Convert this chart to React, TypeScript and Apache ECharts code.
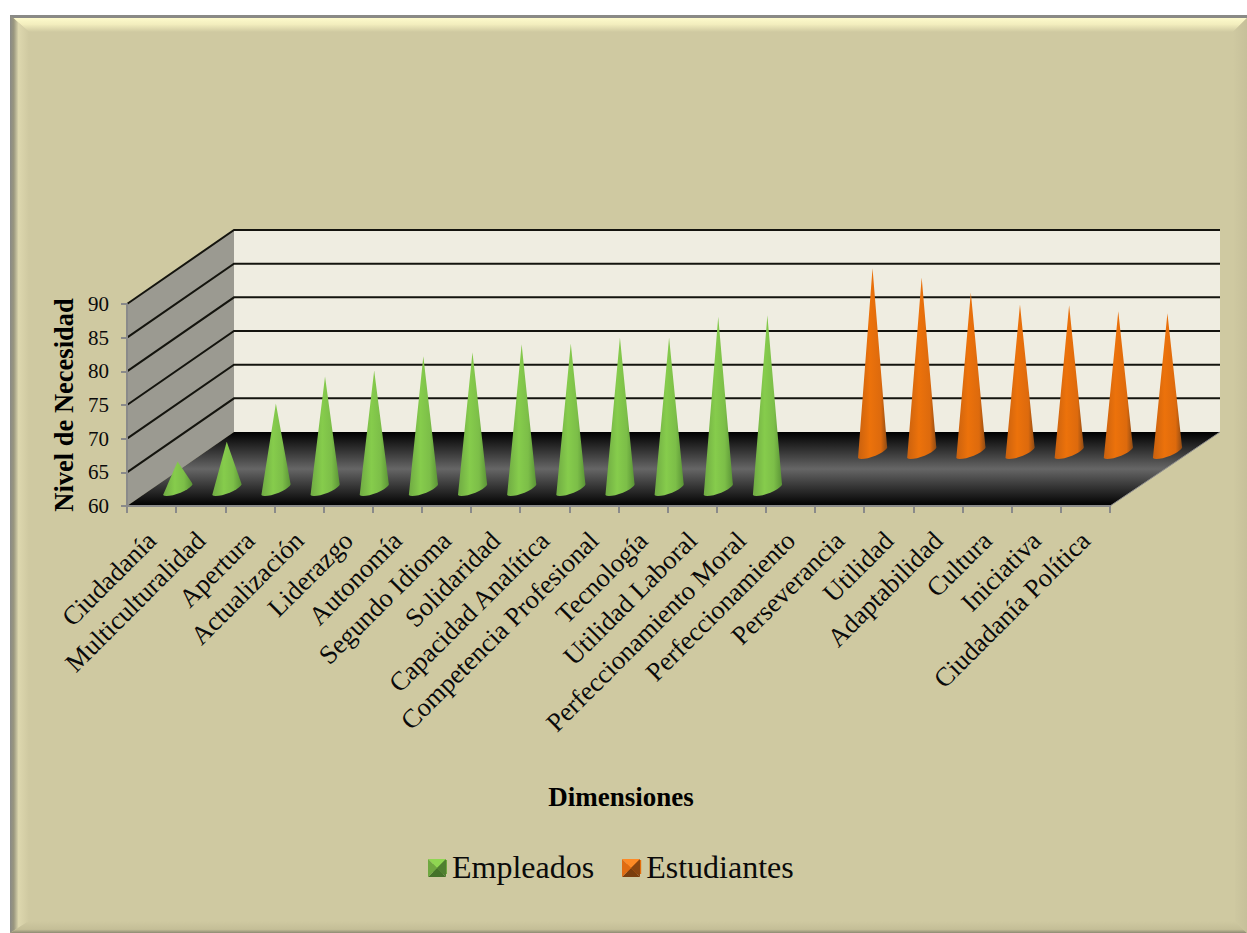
import React, { useEffect, useRef } from "react";
import * as echarts from "echarts";

const categories = [
  "Ciudadanía", "Multiculturalidad", "Apertura", "Actualización", "Liderazgo", "Autonomía",
  "Segundo Idioma", "Solidaridad", "Capacidad Analítica", "Competencia Profesional", "Tecnología",
  "Utilidad Laboral", "Perfeccionamiento Moral", "Perfeccionamiento", "Perseverancia", "Utilidad",
  "Adaptabilidad", "Cultura", "Iniciativa", "Ciudadanía Política",
];
const empleados = [64.1, 67, 72.7, 76.7, 77.6, 79.7, 80.3, 81.5, 81.6, 82.5, 82.5, 85.6, 85.8];
const estudiantes = [87.3, 85.9, 83.7, 81.9, 81.8, 80.9, 80.6];
const estudiantesStart = 13;
const yTicks = [65, 70, 75, 80, 85, 90];

const SERIF = "Liberation Serif";
const DEPTH_L = 107;
const DEPTH_R = 110;
const DEPTH_Y = 74;

const lg = (x1: number, y1: number, x2: number, y2: number, stops: [number, string][]) =>
  new echarts.graphic.LinearGradient(x1, y1, x2, y2, stops.map(([offset, color]) => ({ offset, color })));

const coneRender = (dx: number, dy: number, stops: [number, string][]) => (params: any, api: any) => {
  const idx = api.value(0);
  const top = api.coord([idx, api.value(1)]);
  const base = api.coord([idx, 60]);
  const band = api.size([1, 0])[0];
  const cx = base[0] + dx;
  const cy = base[1] + dy;
  const ax = -band * 0.295;
  const ay = band * 0.122;
  const bx = band * 0.06;
  const by = band * 0.075;
  const points: number[][] = [[top[0] + dx, top[1] + dy]];
  const steps = [0, 1, 2, 3, 4, 5, 6, 7, 8, 9, 10, 11, 12];
  steps.forEach((s) => {
    const t = (s / 12) * Math.PI;
    points.push([cx + ax * Math.cos(t) + bx * Math.sin(t), cy + ay * Math.cos(t) + by * Math.sin(t)]);
  });
  return { type: "polygon", shape: { points }, style: { fill: lg(0, 0, 1, 0, stops) }, silent: true };
};

const wallsRender = (params: any, api: any) => {
  const cs = params.coordSys;
  const l = cs.x, r = cs.x + cs.width, t = cs.y, b = cs.y + cs.height;
  return {
    type: "group",
    silent: true,
    children: [
      {
        type: "polygon",
        shape: { points: [[l + DEPTH_L, t - DEPTH_Y], [r + DEPTH_R, t - DEPTH_Y], [r + DEPTH_R, b - DEPTH_Y], [l + DEPTH_L, b - DEPTH_Y]] },
        style: { fill: "#EFEDE1" },
      },
      {
        type: "polygon",
        shape: { points: [[l, t], [l + DEPTH_L, t - DEPTH_Y], [l + DEPTH_L, b - DEPTH_Y], [l, b]] },
        style: { fill: "#9B9A91" },
      },
      {
        type: "polygon",
        shape: { points: [[l, b], [l + DEPTH_L, b - DEPTH_Y], [r + DEPTH_R, b - DEPTH_Y], [r, b]] },
        style: { fill: lg(0, 0, 0, 1, [[0, "#000000"], [0.5, "#666666"], [1, "#000000"]]) },
      },
      { type: "line", shape: { x1: r, y1: b, x2: r + DEPTH_R, y2: b - DEPTH_Y }, style: { stroke: "#8E8E8E", lineWidth: 1 } },
    ],
  };
};

const gridRender = (params: any, api: any) => {
  const cs = params.coordSys;
  const y = api.coord([0, api.value(1)])[1];
  const l = cs.x, r = cs.x + cs.width;
  return {
    type: "polyline",
    silent: true,
    shape: { points: [[l, y], [l + DEPTH_L, y - DEPTH_Y], [r + DEPTH_R, y - DEPTH_Y]] },
    style: { stroke: "#14140E", lineWidth: 2, fill: "none" },
  };
};

const iconBevel = (x: number, y: number, s: number, cols: string[]) => {
  const m = [x + s / 2, y + s / 2];
  const tri = (a: number[], b: number[], fill: string) => ({
    type: "polygon", z: 100, silent: true, shape: { points: [a, b, m] }, style: { fill },
  });
  const tl = [x, y], tr = [x + s, y], br = [x + s, y + s], bl = [x, y + s];
  return [tri(tl, tr, cols[0]), tri(tr, br, cols[1]), tri(br, bl, cols[2]), tri(bl, tl, cols[3])];
};

export default function App() {
  const ref = useRef<HTMLDivElement>(null);
  useEffect(() => {
    const chart = echarts.init(ref.current!, undefined, { renderer: "svg" });
    const W = 1247, H = 933;
    const PANEL = "#CFC9A1";
    chart.setOption({
      animation: false,
      backgroundColor: "#FFFFFF",
      textStyle: { fontFamily: SERIF, color: "#000" },
      grid: { left: 127, right: W - 1110, top: 304, bottom: H - 506, containLabel: false },
      legend: {
        data: ["Empleados", "Estudiantes"],
        left: 428,
        top: 846,
        itemWidth: 14,
        itemHeight: 14,
        itemGap: 33,
        icon: "rect",
        selectedMode: false,
        textStyle: { fontFamily: SERIF, fontSize: 32, color: "#0A0A0A" },
      },
      xAxis: {
        type: "category",
        data: categories,
        z: 5,
        name: "Dimensiones",
        nameLocation: "middle",
        nameGap: 277,
        nameTextStyle: { fontFamily: SERIF, fontWeight: "bold", fontSize: 27, color: "#000", padding: [0, 0, 0, 5] },
        axisLine: { lineStyle: { color: "#8A8A8A", width: 2 } },
        axisTick: { show: true, length: 7, interval: 0, lineStyle: { color: "#8A8A8A", width: 2 } },
        axisLabel: { rotate: 45, interval: 0, margin: 30, fontFamily: SERIF, fontSize: 26.5, color: "#0A0A0A" },
        splitLine: { show: false },
      },
      yAxis: {
        type: "value",
        min: 60,
        max: 90,
        interval: 5,
        z: 5,
        name: "Nivel de Necesidad",
        nameLocation: "middle",
        nameGap: 50,
        nameRotate: 90,
        nameTextStyle: { fontFamily: SERIF, fontWeight: "bold", fontSize: 26.5, color: "#000" },
        axisLine: { show: true, lineStyle: { color: "#8A8A8A", width: 2 } },
        axisTick: { show: true, length: 6, lineStyle: { color: "#8A8A8A", width: 2 } },
        axisLabel: { margin: 18, fontFamily: SERIF, fontSize: 21, color: "#0A0A0A" },
        splitLine: { show: false },
      },
      series: [
        { type: "custom", name: "walls", z: 1, silent: true, clip: false, data: [[0, 60]], encode: { x: 0, y: 1 }, renderItem: wallsRender },
        { type: "custom", name: "grid", z: 2, silent: true, clip: false, data: yTicks.map((v) => [0, v]), encode: { x: 0, y: 1 }, renderItem: gridRender },
        {
          type: "custom", name: "Empleados", z: 4, silent: true, clip: false,
          itemStyle: { color: "#6FA53F" },
          data: empleados.map((v, i) => [i, v]),
          encode: { x: 0, y: 1 },
          renderItem: coneRender(26, -17, [[0, "#6FAA43"], [0.4, "#86CC4C"], [0.72, "#7CBE48"], [1, "#5A9336"]]),
        },
        {
          type: "custom", name: "Estudiantes", z: 4, silent: true, clip: false,
          itemStyle: { color: "#E46C0A" },
          data: estudiantes.map((v, i) => [i + estudiantesStart, v]),
          encode: { x: 0, y: 1 },
          renderItem: coneRender(82, -54, [[0, "#C9610F"], [0.4, "#EC720B"], [0.78, "#DD6A0D"], [1, "#8E4A14"]]),
        },
      ],
      graphic: {
        elements: [
          { type: "rect", z: -2, silent: true, shape: { x: 10, y: 15, width: 1237, height: 918 }, style: { fill: PANEL } },
          { type: "rect", z: -1, silent: true, shape: { x: 10, y: 15, width: 1237, height: 3 }, style: { fill: "#8A8A86" } },
          {
            type: "polygon", z: -1, silent: true,
            shape: { points: [[13, 18], [1247, 18], [1233, 32], [29, 32]] },
            style: { fill: lg(0, 0, 0, 1, [[0, "#FDFACC"], [0.45, "#F3EEBE"], [1, PANEL]]) },
          },
          {
            type: "polygon", z: -1, silent: true,
            shape: { points: [[10, 15], [29, 32], [29, 921], [10, 933]] },
            style: { fill: lg(0, 0, 1, 0, [[0, "#8A8A86"], [0.2, "#9A977F"], [0.45, "#DDD7AE"], [1, PANEL]]) },
          },
          {
            type: "polygon", z: -1, silent: true,
            shape: { points: [[29, 921], [1235, 921], [1247, 933], [10, 933]] },
            style: { fill: lg(0, 0, 0, 1, [[0, PANEL], [0.7, "#C4BE97"], [1, "#8E8B73"]]) },
          },
          {
            type: "polygon", z: -1, silent: true,
            shape: { points: [[1233, 32], [1247, 18], [1247, 933], [1235, 921]] },
            style: { fill: lg(0, 0, 1, 0, [[0, PANEL], [1, "#C6C09A"]]) },
          },
          ...iconBevel(428, 859, 18, ["#8FD652", "#4F7F30", "#45722A", "#6FA840"]),
          ...iconBevel(622, 859, 18, ["#FF8A25", "#8A4510", "#7A3E0E", "#E06C12"]),
        ],
      },
    });
    return () => chart.dispose();
  }, []);
  return <div ref={ref} style={{ position: "absolute", left: 0, top: 0, width: 1247, height: 933 }} />;
}
